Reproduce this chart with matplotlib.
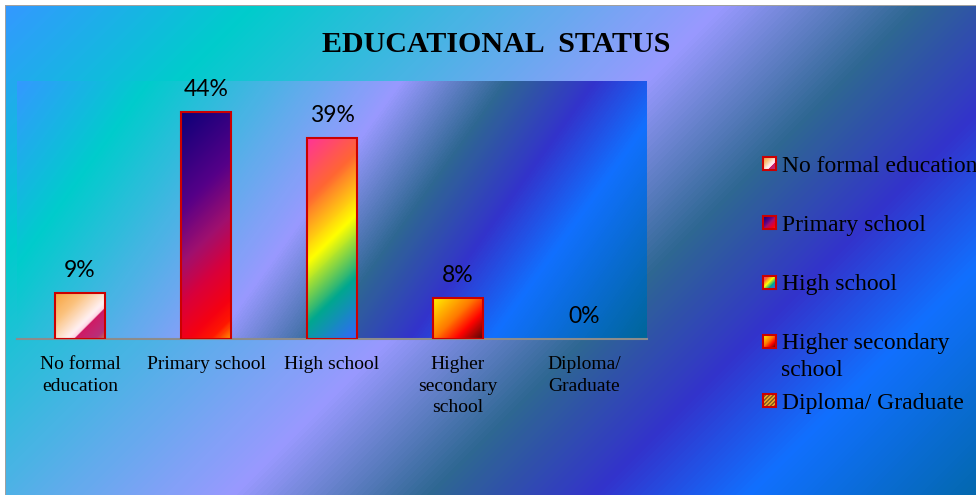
import numpy as np
import matplotlib.pyplot as plt
from matplotlib.colors import LinearSegmentedColormap, to_rgb
from matplotlib.patches import Rectangle

# data
categories = ['No formal\neducation', 'Primary school', 'High school',
              'Higher\nsecondary\nschool', 'Diploma/\nGraduate']
legend_labels = ['No formal education', 'Primary school', 'High school',
                 'Higher secondary\nschool', 'Diploma/ Graduate']
values = [9, 44, 39, 8, 0]

W, H = 976, 495


def ramp(stops):
    return LinearSegmentedColormap.from_list('g', stops)


# office style gradient presets
peacock = ramp([(0, '#3399FF'), (0.16, '#00CCCC'), (0.47, '#9999FF'), (0.60, '#2E6792'),
                (0.71, '#3333CC'), (0.81, '#1170FF'), (1, '#006699')])
fills = [
    ramp([(0, '#F8A23C'), (0.3, '#FBC27E'), (0.6, '#FFF0F2'), (0.67, '#FFD4E4'),
          (0.68, '#D01A64'), (0.9, '#B8307A'), (1, '#C8704A')]),
    ramp([(0, '#0C0078'), (0.35, '#560088'), (0.55, '#A0106E'), (0.7, '#D8003C'),
          (0.85, '#F50012'), (0.93, '#FF1800'), (1, '#FF9000')]),
    ramp([(0, '#FF3399'), (0.25, '#FF6633'), (0.5, '#FFFF00'), (0.75, '#01A78F'), (1, '#3366FF')]),
    ramp([(0, '#FFF200'), (0.45, '#FF7A00'), (0.7, '#FF0300'), (1, '#4D0808')]),
    None,
]


def diag(w, h):
    yy, xx = np.mgrid[0:h, 0:w]
    return (xx + yy) / max(w + h - 2, 1)


def stripes(n):
    yy, xx = np.mgrid[0:n, 0:n]
    a = np.array(to_rgb('#E8A424'))
    b = np.array(to_rgb('#8A6420'))
    return np.where(((xx + yy) % 4 < 2)[..., None], a, b)


fig = plt.figure(figsize=(W / 100, H / 100), dpi=100)

# chart area background
bg = fig.add_axes([0, 0, 1, 1])
bg.set_axis_off()
yy, xx = np.mgrid[0:H, 0:W]
img = np.ones((H, W, 3))
grad = peacock(np.clip(((xx - 6) + (yy - 6)) / 1520, 0, 1))[..., :3]
img[6:, 6:] = grad[6:, 6:]
img[5, 5:] = to_rgb('#A0A0A0')
img[5:, 5] = to_rgb('#A0A0A0')
bg.imshow(img, extent=(0, W, H, 0), interpolation='nearest', aspect='auto')
bg.set_xlim(0, W)
bg.set_ylim(H, 0)

fig.text(496 / W, 1 - 52 / H, 'EDUCATIONAL  STATUS', ha='center', va='baseline',
         fontsize=21.6, fontweight='bold', family='Liberation Serif')

# plot area
ax = fig.add_axes([17 / W, 1 - 339 / H, 630 / W, 258 / H])
pyy, pxx = np.mgrid[0:258, 0:630]
ax.imshow(peacock(np.clip((pxx + 0.72 * pyy) / 815, 0, 1)), extent=(-0.5, 4.5, 0, 50),
          aspect='auto', zorder=0, interpolation='bilinear')

x = np.arange(len(values))
bars = ax.bar(x, values, width=0.4, facecolor='none', edgecolor='#CC0000',
              linewidth=1.5, zorder=3)
for b, v, cm in zip(bars, values, fills):
    if v <= 0 or cm is None:
        b.set_linewidth(0)
        continue
    wpx = int(round(0.4 * 126))
    hpx = int(round(v * 258 / 50))
    im = ax.imshow(cm(diag(wpx, hpx)), extent=(b.get_x(), b.get_x() + b.get_width(), 0, v),
                   aspect='auto', zorder=2, interpolation='bilinear')
    im.set_clip_path(b)

for xi, v in zip(x, values):
    ax.annotate(f'{v}%', (xi, v), xytext=(0, 11.5), textcoords='offset points',
                ha='center', va='baseline', fontsize=16.5, family='Lato')

ax.set_xlim(-0.5, 4.5)
ax.set_ylim(0, 50)
ax.set_xticks(x, categories, fontsize=14, family='Liberation Serif', linespacing=1.33)
ax.tick_params(axis='x', length=0, pad=12.5)
ax.set_yticks([])
for s in ['top', 'left', 'right']:
    ax.spines[s].set_visible(False)
ax.spines['bottom'].set_color('#8C8C8C')
ax.spines['bottom'].set_linewidth(1.5)

# legend
for i, (lab, cm) in enumerate(zip(legend_labels, fills)):
    base = 172 + 59.25 * i
    y0 = base - 15
    sq = Rectangle((763, y0), 13, 13, facecolor='none', edgecolor='#CC0000', lw=1.5, zorder=3)
    bg.add_patch(sq)
    arr = stripes(13) if cm is None else cm(diag(13, 13))
    mi = bg.imshow(arr, extent=(763, 776, y0 + 13, y0), aspect='auto', zorder=2,
                   interpolation='nearest')
    mi.set_clip_path(sq)
    bg.text(781.5, base - 16.5, lab, ha='left', va='top', fontsize=17,
            family='Liberation Serif', linespacing=1.37)

bg.set_xlim(0, W)
bg.set_ylim(H, 0)

fig.savefig('out.png', dpi=100)
